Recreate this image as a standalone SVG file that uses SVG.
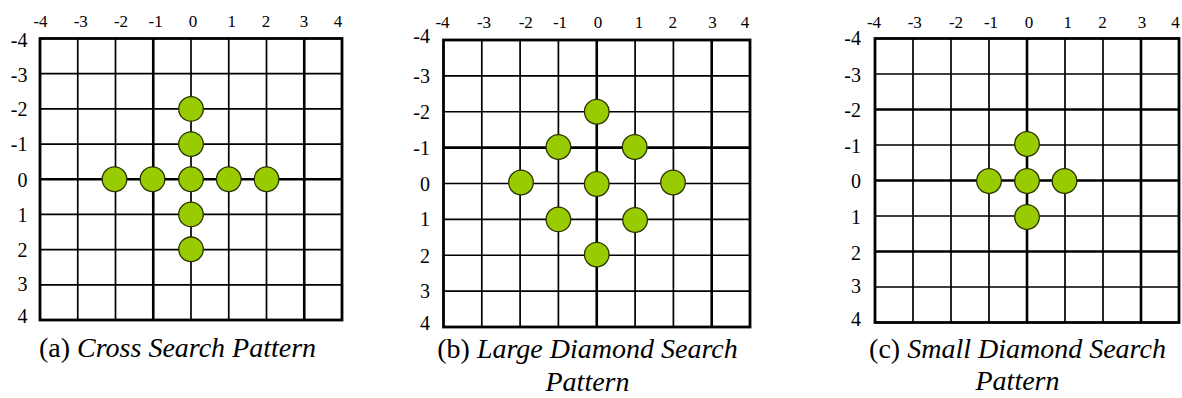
<svg xmlns="http://www.w3.org/2000/svg" width="1182" height="398" viewBox="0 0 1182 398">
<style>
  .bg { fill: #ffffff; }
  .border { fill: none; stroke: #000; stroke-width: 2.8; }
  .grid { stroke: #000; stroke-width: 1.7; fill: none; }
  .thick { stroke: #000; stroke-width: 2.6; fill: none; }
  .pt { fill: #99CC00; stroke: #2a3300; stroke-width: 1.3; }
  .top { font-size: 17px; text-anchor: middle; fill: #000; }
  .left { font-size: 20px; text-anchor: end; fill: #000; }
  .cap { font-size: 28px; fill: #000; }
  .it { font-style: italic; }
</style>
<rect class="bg" x="0" y="0" width="1182" height="398"/>

<!-- Panel (a) -->
<g id="panel-a">
  <g id="grid-a">
    <path class="grid" d="M77.75 38.5V320M115.5 38.5V320M191 38.5V320M228.75 38.5V320M266.5 38.5V320M40 73.7H342M40 108.9H342M40 144.1H342M40 214.4H342M40 249.6H342M40 284.8H342"/>
    <path class="thick" d="M153.25 38.5V320M304.25 38.5V320M40 179.25H342"/>
    <rect class="border" x="40" y="38.5" width="302" height="281.5"/>
  </g>
  <g id="labels-a-top" font-family="Liberation Serif">
    <text class="top" x="40.5" y="27">-4</text>
    <text class="top" x="80.8" y="27">-3</text>
    <text class="top" x="121" y="27">-2</text>
    <text class="top" x="155.7" y="27">-1</text>
    <text class="top" x="193" y="27">0</text>
    <text class="top" x="231.7" y="27">1</text>
    <text class="top" x="266" y="27">2</text>
    <text class="top" x="304" y="27">3</text>
    <text class="top" x="338" y="27">4</text>
  </g>
  <g id="labels-a-left" font-family="Liberation Serif">
    <text class="left" x="27.5" y="46.5">-4</text>
    <text class="left" x="27.5" y="81.7">-3</text>
    <text class="left" x="27.5" y="115.5">-2</text>
    <text class="left" x="27.5" y="150.5">-1</text>
    <text class="left" x="27.5" y="186.7">0</text>
    <text class="left" x="27.5" y="221.7">1</text>
    <text class="left" x="27.5" y="257">2</text>
    <text class="left" x="27.5" y="290.5">3</text>
    <text class="left" x="27.5" y="322.7">4</text>
  </g>
  <g id="a-p0m2"><circle class="pt" cx="191" cy="108.9" r="12.3"/></g>
  <g id="a-p0m1"><circle class="pt" cx="191" cy="144.1" r="12.3"/></g>
  <g id="a-pm2_0"><circle class="pt" cx="114.5" cy="179.25" r="12.3"/></g>
  <g id="a-pm1_0"><circle class="pt" cx="152.5" cy="179.25" r="12.3"/></g>
  <g id="a-p0_0"><circle class="pt" cx="191" cy="179.25" r="12.3"/></g>
  <g id="a-p1_0"><circle class="pt" cx="228.75" cy="179.25" r="12.3"/></g>
  <g id="a-p2_0"><circle class="pt" cx="266.5" cy="179.25" r="12.3"/></g>
  <g id="a-p0_1"><circle class="pt" cx="191" cy="214.4" r="12.3"/></g>
  <g id="a-p0_2"><circle class="pt" cx="191" cy="249.3" r="12.3"/></g>
  <text class="cap" font-family="Liberation Serif" x="39" y="357">(a) <tspan class="it">Cross Search Pattern</tspan></text>
</g>

<!-- Panel (b) -->
<g id="panel-b">
  <g id="grid-b">
    <path class="grid" d="M481.8 40V327M520.1 40V327M558.4 40V327M635.1 40V327M673.4 40V327M443.5 75.9H750M443.5 111.75H750M443.5 183.5H750M443.5 219.4H750M443.5 255.25H750M443.5 291.1H750"/>
    <path class="thick" d="M596.75 40V327M711.7 40V327M443.5 147.6H750"/>
    <rect class="border" x="443.5" y="40" width="306.5" height="287"/>
  </g>
  <g id="labels-b-top" font-family="Liberation Serif">
    <text class="top" x="442.5" y="28">-4</text>
    <text class="top" x="484" y="28">-3</text>
    <text class="top" x="525.8" y="28">-2</text>
    <text class="top" x="560" y="28">-1</text>
    <text class="top" x="598" y="28">0</text>
    <text class="top" x="639" y="28">1</text>
    <text class="top" x="672.8" y="28">2</text>
    <text class="top" x="712.5" y="28">3</text>
    <text class="top" x="745" y="28">4</text>
  </g>
  <g id="labels-b-left" font-family="Liberation Serif">
    <text class="left" x="430" y="43">-4</text>
    <text class="left" x="430" y="83">-3</text>
    <text class="left" x="430" y="119">-2</text>
    <text class="left" x="430" y="155">-1</text>
    <text class="left" x="430" y="190.7">0</text>
    <text class="left" x="430" y="226">1</text>
    <text class="left" x="430" y="262.7">2</text>
    <text class="left" x="430" y="298">3</text>
    <text class="left" x="430" y="330">4</text>
  </g>
  <g id="b-p0m2"><circle class="pt" cx="596.75" cy="111.75" r="12.3"/></g>
  <g id="b-pm1m1"><circle class="pt" cx="558.4" cy="147" r="12.3"/></g>
  <g id="b-p1m1"><circle class="pt" cx="634.7" cy="147" r="12.3"/></g>
  <g id="b-pm2_0"><circle class="pt" cx="521" cy="182.5" r="12.3"/></g>
  <g id="b-p0_0"><circle class="pt" cx="596.75" cy="184" r="12.3"/></g>
  <g id="b-p2_0"><circle class="pt" cx="673" cy="182.5" r="12.3"/></g>
  <g id="b-pm1_1"><circle class="pt" cx="558.4" cy="219.4" r="12.3"/></g>
  <g id="b-p1_1"><circle class="pt" cx="635.1" cy="220" r="12.3"/></g>
  <g id="b-p0_2"><circle class="pt" cx="596.75" cy="254.6" r="12.3"/></g>
  <text class="cap" font-family="Liberation Serif" x="587.5" y="358" text-anchor="middle">(b) <tspan class="it">Large Diamond Search</tspan></text>
  <text class="cap it" font-family="Liberation Serif" x="587.5" y="391" text-anchor="middle">Pattern</text>
</g>

<!-- Panel (c) -->
<g id="panel-c">
  <g id="grid-c">
    <path class="grid" d="M913 38.5V322.5M951 38.5V322.5M989 38.5V322.5M1065 38.5V322.5M1103 38.5V322.5M875 74H1179M875 145H1179M875 216H1179M875 287H1179"/>
    <path class="thick" d="M1027 38.5V322.5M1141 38.5V322.5M875 109.5H1179M875 180.5H1179M875 251.5H1179"/>
    <rect class="border" x="875" y="38.5" width="304" height="284"/>
  </g>
  <g id="labels-c-top" font-family="Liberation Serif">
    <text class="top" x="874" y="28">-4</text>
    <text class="top" x="914.8" y="28">-3</text>
    <text class="top" x="956" y="28">-2</text>
    <text class="top" x="991" y="28">-1</text>
    <text class="top" x="1029" y="28">0</text>
    <text class="top" x="1067.8" y="28">1</text>
    <text class="top" x="1102.5" y="28">2</text>
    <text class="top" x="1142" y="28">3</text>
    <text class="top" x="1175.5" y="28">4</text>
  </g>
  <g id="labels-c-left" font-family="Liberation Serif">
    <text class="left" x="861" y="45">-4</text>
    <text class="left" x="861" y="81.7">-3</text>
    <text class="left" x="861" y="117">-2</text>
    <text class="left" x="861" y="153">-1</text>
    <text class="left" x="861" y="188">0</text>
    <text class="left" x="861" y="224">1</text>
    <text class="left" x="861" y="260">2</text>
    <text class="left" x="861" y="292.7">3</text>
    <text class="left" x="861" y="326">4</text>
  </g>
  <g id="c-p0m1"><circle class="pt" cx="1027" cy="144" r="12.3"/></g>
  <g id="c-pm1_0"><circle class="pt" cx="989" cy="181" r="12.3"/></g>
  <g id="c-p0_0"><circle class="pt" cx="1027" cy="181" r="12.3"/></g>
  <g id="c-p1_0"><circle class="pt" cx="1064.5" cy="181" r="12.3"/></g>
  <g id="c-p0_1"><circle class="pt" cx="1027" cy="217" r="12.3"/></g>
  <text class="cap" font-family="Liberation Serif" x="1017.5" y="358" text-anchor="middle">(c) <tspan class="it">Small Diamond Search</tspan></text>
  <text class="cap it" font-family="Liberation Serif" x="1017.5" y="390" text-anchor="middle">Pattern</text>
</g>
</svg>
